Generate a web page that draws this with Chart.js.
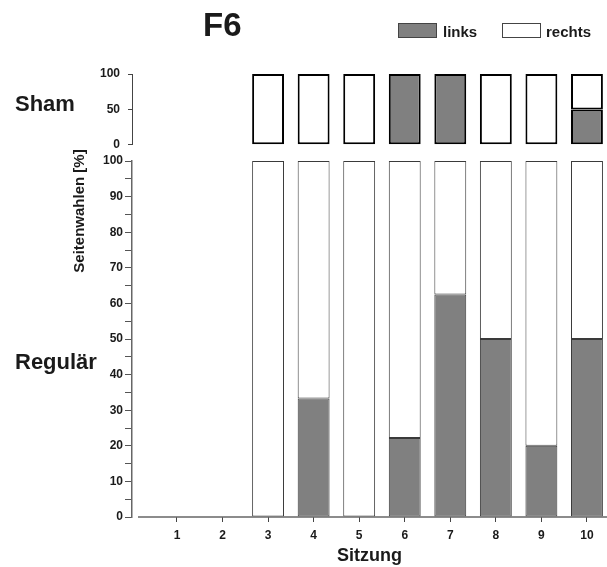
<!DOCTYPE html>
<html>
<head>
<meta charset="utf-8">
<script src="https://cdn.jsdelivr.net/npm/chart.js@4.4.1/dist/chart.umd.min.js"></script>
<style>
  body { margin: 0; background: #fff; }
  #wrap { position: relative; width: 607px; height: 567px; overflow: hidden; font-family: "Liberation Sans", Arial, sans-serif; font-weight: bold; color: #1a1a1a; }
  canvas { position: absolute; left: 0; top: 0; }
  .txt { position: absolute; line-height: 1; white-space: nowrap; }
  .swatch { position: absolute; width: 37px; height: 13px; border: 1px solid #444; }
</style>
</head>
<body>
<div id="wrap">
  <canvas id="regular" width="607" height="567"></canvas>
  <canvas id="sham" width="607" height="160"></canvas>
  <div class="txt" style="left:203px; top:8px; font-size:33px;">F6</div>
  <div class="swatch" style="left:398px; top:23px; background:#808080;"></div>
  <div class="txt" style="left:443px; top:24px; font-size:15px;">links</div>
  <div class="swatch" style="left:502px; top:23px; background:#fff;"></div>
  <div class="txt" style="left:546px; top:24px; font-size:15px;">rechts</div>
  <div class="txt" style="left:15px; top:93px; font-size:22px;">Sham</div>
  <div class="txt" style="left:15px; top:351px; font-size:22px;">Regulär</div>
  <div class="txt" style="left:78px; top:211px; font-size:15px; transform: translate(-50%, -50%) rotate(-90deg);">Seitenwahlen [%]</div>
</div>
<script>
const sessions = [1, 2, 3, 4, 5, 6, 7, 8, 9, 10];
const shamLinks  = [null, null, 0, 0, 0, 100, 100, 0, 0, 50];
const shamRechts = [null, null, 100, 100, 100, 0, 0, 100, 100, 50];
const regLinks   = [null, null, 0, 33.3, 0, 22.2, 62.5, 50, 20, 50];
const regRechts  = [null, null, 100, 66.7, 100, 77.8, 37.5, 50, 80, 50];

const GRAY = '#808080';
const X_MIN = 0.013;
const X_MAX = 10.44;
const tickFont = { family: '"Liberation Sans", Arial, sans-serif', size: 12, weight: 'bold' };

function points(values) {
    return sessions.map((s, i) => ({ x: s, y: values[i] }));
}

function dataset(label, values, color, border, width) {
    return {
        label: label,
        data: points(values),
        backgroundColor: color,
        borderColor: border,
        borderWidth: width,
        borderSkipped: false,
        categoryPercentage: 1,
        barPercentage: 0.7
    };
}

// x axis line starts a bit right of the y axis, like the original
const xLine = {
    id: 'xLine',
    afterDraw(chart) {
        const { ctx, chartArea } = chart;
        ctx.save();
        ctx.strokeStyle = '#666';
        ctx.lineWidth = 1.5;
        ctx.beginPath();
        ctx.moveTo(chartArea.left + 6, chartArea.bottom);
        ctx.lineTo(chartArea.right, chartArea.bottom);
        ctx.stroke();
        ctx.restore();
    }
};

new Chart(document.getElementById('sham'), {
    type: 'bar',
    data: {
        datasets: [
            dataset('links', shamLinks, GRAY, '#000', 2),
            dataset('rechts', shamRechts, '#fff', '#000', 2)
        ]
    },
    options: {
        responsive: false,
        animation: false,
        layout: { padding: { top: 74, bottom: 15, left: 0, right: 0 } },
        plugins: { legend: { display: false }, tooltip: { enabled: false } },
        scales: {
            x: { type: 'linear', stacked: true, min: X_MIN, max: X_MAX, offset: false, display: false },
            y: {
                stacked: true, min: 0, max: 100,
                afterFit(scale) { scale.width = 132; },
                border: { display: true, color: '#444', width: 1 },
                grid: { drawOnChartArea: false, tickLength: 4, color: '#444' },
                ticks: { stepSize: 50, font: tickFont, color: '#1a1a1a', padding: 8 }
            }
        }
    }
});

new Chart(document.getElementById('regular'), {
    type: 'bar',
    data: {
        datasets: [
            dataset('links', regLinks, GRAY, '#3a3a3a', 1),
            dataset('rechts', regRechts, '#fff', '#3a3a3a', 1)
        ]
    },
    options: {
        responsive: false,
        animation: false,
        layout: { padding: { top: 161, bottom: 0, left: 0, right: 0 } },
        plugins: { legend: { display: false }, tooltip: { enabled: false } },
        scales: {
            x: {
                type: 'linear', stacked: true, min: X_MIN, max: X_MAX, offset: false,
                afterFit(scale) { scale.height = 50; },
                afterBuildTicks(scale) { scale.ticks = sessions.map(v => ({ value: v })); },
                border: { display: false },
                grid: { drawOnChartArea: false, offset: false, tickLength: 5, color: '#444' },
                ticks: { font: tickFont, color: '#1a1a1a', padding: 6, maxRotation: 0, includeBounds: false },
                title: {
                    display: true, text: 'Sitzung', color: '#1a1a1a',
                    font: { family: '"Liberation Sans", Arial, sans-serif', size: 18, weight: 'bold' },
                    padding: { top: 0, bottom: 0 }
                }
            },
            y: {
                stacked: true, min: 0, max: 100,
                afterFit(scale) { scale.width = 132; },
                border: { display: true, color: '#666', width: 1.5 },
                grid: { drawOnChartArea: false, tickLength: 7, color: '#555' },
                ticks: {
                    stepSize: 5, font: tickFont, color: '#1a1a1a', padding: 2,
                    callback: v => (v % 10 === 0 ? v : '')
                }
            }
        }
    },
    plugins: [xLine]
});
</script>
</body>
</html>
